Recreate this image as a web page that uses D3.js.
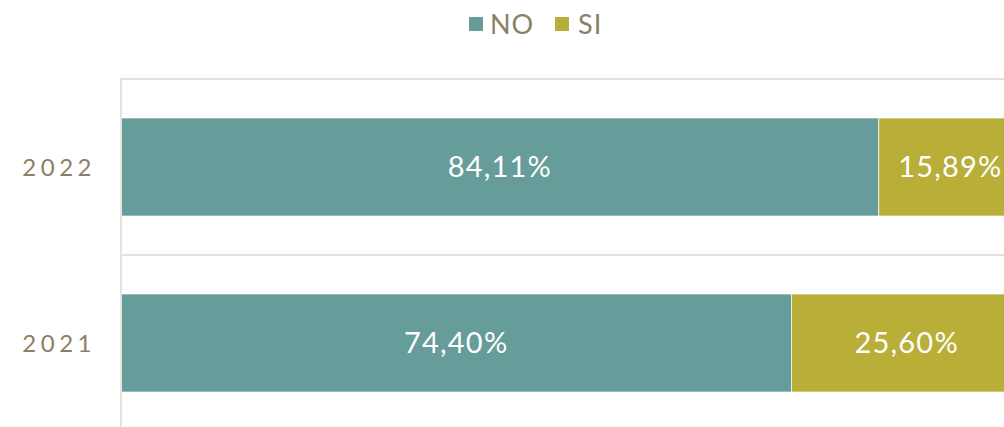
<!DOCTYPE html>
<html>
<head>
<meta charset="utf-8">
<script src="https://cdn.jsdelivr.net/npm/d3@7"></script>
<style>
  body { margin: 0; background: #fff; overflow: hidden; }
  svg { display: block; font-family: "Lato", "Open Sans", sans-serif; }
</style>
</head>
<body>
<svg id="chart" width="1004" height="427"></svg>
<script>
// data
const years = ["2022", "2021"]
const seriesNames = ["NO", "SI"]
const noValues = [84.11, 74.40]
const siValues = [15.89, 25.60]

const colors = {NO: "#669c99", SI: "#b8ae38"}
const textColor = "#8a8065"
const gridColor = "#e6e3dc"

const width = 1004, height = 427
const margin = {top: 79, left: 121}
const plotRight = 1022   // the 100% end falls past the window edge
const plotBottom = 431

const svg = d3.select("#chart")

const x = d3.scaleLinear().domain([0, 100]).range([margin.left, plotRight])
const y = d3.scaleBand().domain(years).range([margin.top, plotBottom]).paddingInner(0.443).paddingOuter(0.2215)

const rows = years.map((yr, i) => ({year: yr, NO: noValues[i], SI: siValues[i]}))
const stacked = d3.stack().keys(seriesNames)(rows)

// category band lines
const bandEdges = years.map(yr => y(yr) - y.step() * y.paddingInner() / 2)
svg.append("g")
  .selectAll("line")
  .data(bandEdges)
  .join("line")
  .attr("x1", margin.left).attr("x2", width)
  .attr("y1", d => d).attr("y2", d => d)
  .attr("stroke", gridColor).attr("stroke-width", 2)

// bars
svg.append("g")
  .selectAll("g")
  .data(stacked)
  .join("g")
  .attr("fill", d => colors[d.key])
  .selectAll("rect")
  .data(d => d.map(p => ({key: d.key, p})))
  .join("rect")
  .attr("x", d => x(d.p[0]))
  .attr("y", d => y(d.p.data.year))
  .attr("width", d => x(d.p[1]) - x(d.p[0]))
  .attr("height", y.bandwidth())
  .attr("stroke", "#fff").attr("stroke-width", 0.7)

// value labels
const fmt = v => v.toFixed(2).replace(".", ",") + "%"
svg.append("g")
  .selectAll("text")
  .data(stacked.flatMap(s => s.map(p => ({key: s.key, p}))))
  .join("text")
  .attr("x", d => (x(d.p[0]) + x(d.p[1])) / 2)
  .attr("y", d => y(d.p.data.year) + y.bandwidth() / 2)
  .attr("dy", "0.36em")
  .attr("text-anchor", "middle")
  .attr("fill", "#fff")
  .attr("font-size", 29)
  .attr("letter-spacing", 1.2)
  .text(d => fmt(d.p.data[d.key]))

// vertical axis line
svg.append("line")
  .attr("x1", margin.left).attr("x2", margin.left)
  .attr("y1", margin.top - 1).attr("y2", height)
  .attr("stroke", gridColor).attr("stroke-width", 2)

// year labels
svg.append("g")
  .selectAll("text")
  .data(years)
  .join("text")
  .attr("x", 96)
  .attr("y", d => y(d) + y.bandwidth() / 2)
  .attr("dy", "0.36em")
  .attr("text-anchor", "end")
  .attr("fill", textColor)
  .attr("font-size", 24)
  .attr("letter-spacing", 4.5)
  .text(d => d)

// legend
const legendItems = [
  {key: "NO", sx: 469, tx: 490},
  {key: "SI", sx: 555, tx: 578}
]
const legend = svg.append("g")
legend.selectAll("rect")
  .data(legendItems)
  .join("rect")
  .attr("x", d => d.sx).attr("y", 17)
  .attr("width", 14).attr("height", 14)
  .attr("fill", d => colors[d.key])
legend.selectAll("text")
  .data(legendItems)
  .join("text")
  .attr("x", d => d.tx).attr("y", 24)
  .attr("dy", "0.36em")
  .attr("fill", textColor)
  .attr("font-size", 27)
  .attr("letter-spacing", 1)
  .text(d => d.key)
</script>
</body>
</html>
